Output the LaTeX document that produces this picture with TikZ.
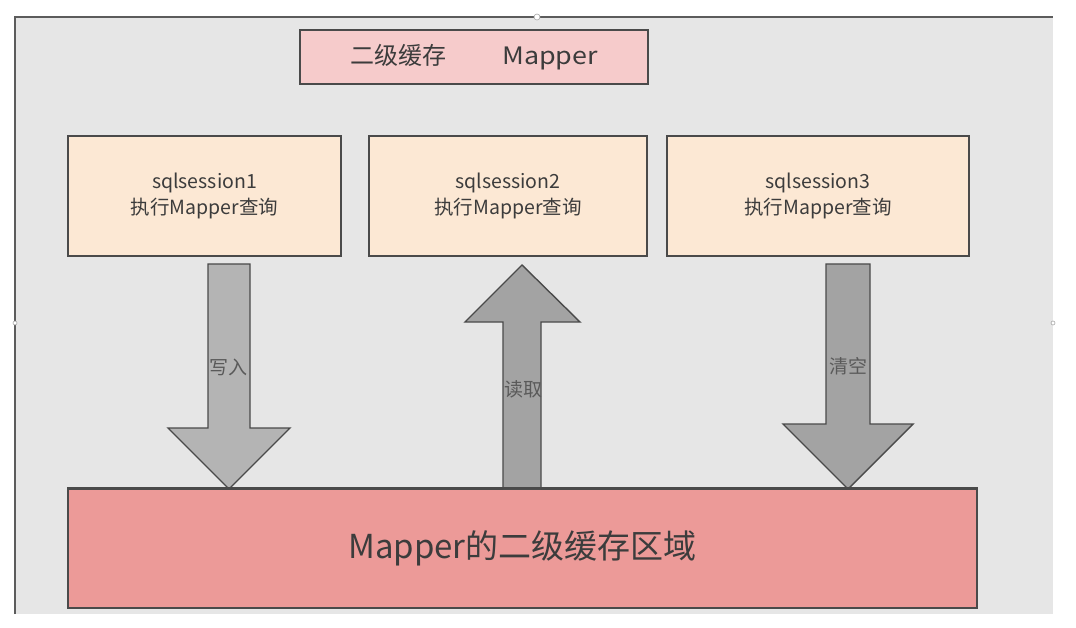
\documentclass[tikz,border=0pt]{standalone}
\usepackage{fontspec}
\setmainfont{Noto Sans CJK SC}
\definecolor{panel}{HTML}{E6E6E6}
\definecolor{edge}{HTML}{4A4A4A}
\definecolor{titlefill}{HTML}{F6CBCB}
\definecolor{peach}{HTML}{FCE8D4}
\definecolor{bigfill}{HTML}{EC9A98}
\definecolor{arrowA}{HTML}{B4B4B4}
\definecolor{arrowB}{HTML}{A3A3A3}
\definecolor{txt}{HTML}{3C3C3C}
\definecolor{lbl}{HTML}{5A5A5A}
\tikzset{
  boxbase/.style={draw=edge, line width=1.6pt, text=txt, inner sep=0pt},
  sessbox/.style={boxbase, fill=peach, minimum width=#1, minimum height=120pt,
    align=center, font=\fontsize{19.5}{26}\selectfont},
  blockarrow/.style={draw=edge, line width=1.4pt, line join=miter},
  arrowlabel/.style={text=lbl, font=\fontsize{19}{22}\selectfont, inner sep=0pt},
  handle/.style={circle, draw=gray!70, fill=white, inner sep=0pt, minimum size=6pt, line width=0.6pt}
}
\begin{document}
\begin{tikzpicture}[x=1pt,y=-1pt]
\useasboundingbox (0,0) rectangle (1076,628);
\fill[white] (0,0) rectangle (1076,628);
% panel
\fill[panel] (15,17) rectangle (1053,614);
\draw[edge!90, line width=1.6pt] (15,614) -- (15,17) -- (1053,17);
\node[handle] (h1) at (537,17) {};
\node[handle, minimum size=4pt] (h2) at (15,323) {};
\node[handle, minimum size=4pt] (h3) at (1053,323) {};
% title
\node[boxbase, fill=titlefill, minimum width=348pt, minimum height=54pt,
  font=\fontsize{24}{28}\selectfont] (title) at (474,57) {二级缓存\hspace{56pt}\scalebox{1.12}[1]{Mapper}};
% session boxes
\node[sessbox=273pt] (s1) at (204.5,196) {sqlsession1\\执行Mapper查询};
\node[sessbox=278pt] (s2) at (508,196) {sqlsession2\\执行Mapper查询};
\node[sessbox=302pt] (s3) at (818,196) {sqlsession3\\执行Mapper查询};
% big box
\node[boxbase, fill=bigfill, minimum width=909pt, minimum height=119pt,
  font=\fontsize{33}{38}\selectfont] (big) at (522.5,548.5) {Mapper的二级缓存区域};
% arrow 1 (down)
\fill[arrowA] (208,264) -- (250,264) -- (250,428) -- (290,428) -- (229,489) -- (168,428) -- (208,428) -- cycle;
\draw[blockarrow] (208,264) -- (250,264) -- (250,428) -- (290,428) -- (229,489) -- (168,428) -- (208,428) -- cycle;
% arrow 2 (up)
\fill[arrowB] (503,489) -- (541,489) -- (541,322) -- (580,322) -- (522,265) -- (465,322) -- (503,322) -- cycle;
\draw[blockarrow] (503,489) -- (541,489) -- (541,322) -- (580,322) -- (522,265) -- (465,322) -- (503,322) -- cycle;
% arrow 3 (down)
\fill[arrowB] (826,264) -- (870,264) -- (870,424) -- (913,424) -- (848,489) -- (783,424) -- (826,424) -- cycle;
\draw[blockarrow] (826,264) -- (870,264) -- (870,424) -- (913,424) -- (848,489) -- (783,424) -- (826,424) -- cycle;
% redraw big box top edge over arrow tips
\draw[edge, line width=1.6pt] (big.north west) -- (big.north east);
% labels
\node[arrowlabel] (l1) at (228,367) {写入};
\node[arrowlabel] (l2) at (523,389) {读取};
\node[arrowlabel] (l3) at (848,366) {清空};
\end{tikzpicture}
\end{document}
